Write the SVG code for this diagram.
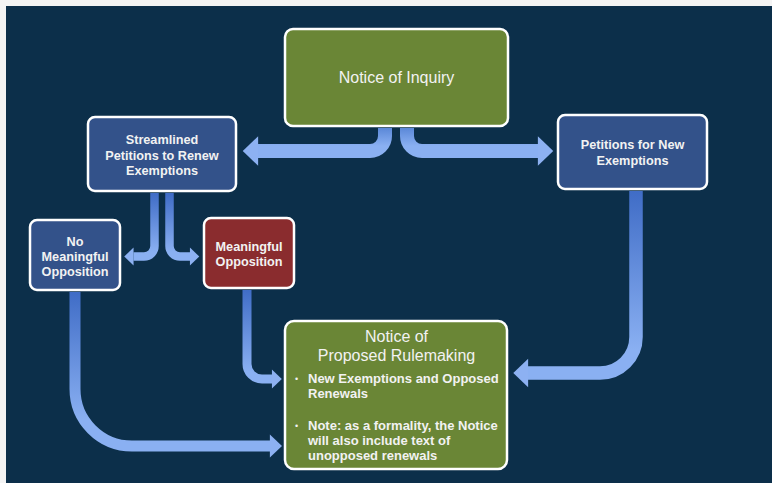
<svg xmlns="http://www.w3.org/2000/svg" width="772" height="483" viewBox="0 0 772 483">
<style>
.bg{fill:#0c2f4a}
.box{stroke:#ffffff;stroke-width:2.5}
.blue{fill:#33528a}
.green{fill:#6a8636}
.red{fill:#8a2c2e}
.t{font-family:"Liberation Sans",Arial,sans-serif;fill:#f2f2f2;text-anchor:middle}
.b{font-weight:bold;font-size:12.7px}
.r{font-size:16px}
.bl{font-family:"Liberation Sans",Arial,sans-serif;fill:#f2f2f2;font-weight:bold;font-size:13px}
.dot{font-family:"Liberation Sans",Arial,sans-serif;fill:#f2f2f2;font-size:9px}
.arr{fill:none;stroke-linecap:butt;marker-end:url(#head)}
</style>
<defs>
<marker id="head" markerUnits="strokeWidth" markerWidth="1.2" markerHeight="2.2" viewBox="0 -1.1 1.1 2.2" refX="0.01" refY="0" orient="auto" overflow="visible">
<path d="M0,-1.05 L1.1,0 L0,1.05 Z" fill="#8db1f2"/>
</marker>
<linearGradient id="gNoi" gradientUnits="userSpaceOnUse" x1="0" y1="128" x2="0" y2="146">
<stop offset="0" stop-color="#5b88d8"/><stop offset="1" stop-color="#8ab0f2"/>
</linearGradient>
<linearGradient id="gStr" gradientUnits="userSpaceOnUse" x1="0" y1="193" x2="0" y2="252">
<stop offset="0" stop-color="#3f6cc6"/><stop offset="1" stop-color="#8ab0f2"/>
</linearGradient>
<linearGradient id="gMo" gradientUnits="userSpaceOnUse" x1="0" y1="289" x2="0" y2="372">
<stop offset="0" stop-color="#3f6cc6"/><stop offset="1" stop-color="#8ab0f2"/>
</linearGradient>
<linearGradient id="gNmo" gradientUnits="userSpaceOnUse" x1="0" y1="291" x2="0" y2="420">
<stop offset="0" stop-color="#3f6cc6"/><stop offset="1" stop-color="#8ab0f2"/>
</linearGradient>
<linearGradient id="gNew" gradientUnits="userSpaceOnUse" x1="0" y1="190" x2="0" y2="350">
<stop offset="0" stop-color="#3f6cc6"/><stop offset="1" stop-color="#8ab0f2"/>
</linearGradient>
</defs>
<rect x="0" y="0" width="772" height="483" fill="#f4f4f4"/>
<rect class="bg" x="6" y="6" width="766" height="477"/>

<g id="connectors">
<path class="arr" d="M385,128 V136 A15,15 0 0 1 370,151 H258" stroke="url(#gNoi)" stroke-width="14"/>
<path class="arr" d="M407,128 V136 A15,15 0 0 0 422,151 H538" stroke="url(#gNoi)" stroke-width="14"/>
<path class="arr" d="M154.5,193 V246 A10.5,10.5 0 0 1 144,256.5 H133.5" stroke="url(#gStr)" stroke-width="8.5"/>
<path class="arr" d="M169.5,193 V246 A10.5,10.5 0 0 0 180,256.5 H190" stroke="url(#gStr)" stroke-width="8.5"/>
<path class="arr" d="M247,290 V364 A15,15 0 0 0 262,379 H272" stroke="url(#gMo)" stroke-width="9"/>
<path class="arr" d="M75,292 V389 A57,57 0 0 0 132,446 H270" stroke="url(#gNmo)" stroke-width="11"/>
<path class="arr" d="M636,191 V337 A36,36 0 0 1 600,373 H528" stroke="url(#gNew)" stroke-width="13.5"/>
</g>

<g id="notice-of-inquiry">
<rect class="box green" x="285" y="29" width="223" height="97" rx="8"/>
<text class="t r" x="396.5" y="82.5">Notice of Inquiry</text>
</g>

<g id="streamlined-petitions">
<rect class="box blue" x="88" y="117" width="148" height="74" rx="7"/>
<text class="t b" x="162" y="144">Streamlined</text>
<text class="t b" x="162" y="159.5">Petitions to Renew</text>
<text class="t b" x="162" y="175">Exemptions</text>
</g>

<g id="petitions-new">
<rect class="box blue" x="558" y="115" width="149" height="74" rx="7"/>
<text class="t b" x="632.5" y="148.5">Petitions for New</text>
<text class="t b" x="632.5" y="164.5">Exemptions</text>
</g>

<g id="no-meaningful-opposition">
<rect class="box blue" x="30" y="220" width="90" height="70" rx="7"/>
<text class="t b" x="75" y="245.5">No</text>
<text class="t b" x="75" y="260.5">Meaningful</text>
<text class="t b" x="75" y="275.5">Opposition</text>
</g>

<g id="meaningful-opposition">
<rect class="box red" x="204" y="218" width="90" height="70" rx="7"/>
<text class="t b" x="249" y="250.5">Meaningful</text>
<text class="t b" x="249" y="265.5">Opposition</text>
</g>

<g id="notice-of-proposed-rulemaking">
<rect class="box green" x="285" y="321" width="222" height="148" rx="9"/>
<text class="t r" x="396.5" y="342">Notice of</text>
<text class="t r" x="396.5" y="360.5">Proposed Rulemaking</text>
<text class="dot" x="295" y="382">•</text>
<text class="bl" x="308" y="383">New Exemptions and Opposed</text>
<text class="bl" x="308" y="398">Renewals</text>
<text class="dot" x="295" y="428.5">•</text>
<text class="bl" x="308" y="429.5">Note: as a formality, the Notice</text>
<text class="bl" x="308" y="444.5">will also include text of</text>
<text class="bl" x="308" y="459.5">unopposed renewals</text>
</g>
</svg>
